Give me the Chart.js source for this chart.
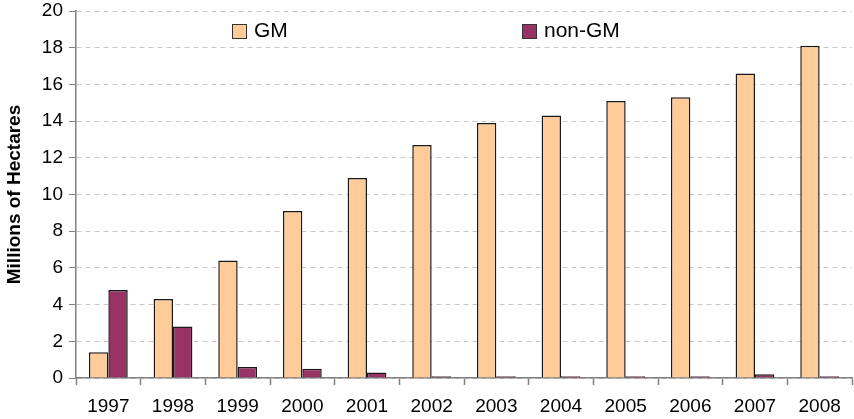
<!DOCTYPE html>
<html>
<head>
<meta charset="utf-8">
<script src="https://cdn.jsdelivr.net/npm/chart.js@4"></script>
<style>
  html, body { margin: 0; padding: 0; background: #fff; }
  #wrap { width: 854px; height: 419px; position: relative; }
</style>
</head>
<body>
<div id="wrap"><canvas id="chart"></canvas></div>
<script>
// data
const years = ['1997', '1998', '1999', '2000', '2001', '2002', '2003', '2004', '2005', '2006', '2007', '2008'];
const gmValues = [1.4, 4.3, 6.4, 9.1, 10.9, 12.7, 13.9, 14.3, 15.1, 15.3, 16.6, 18.1];
const nonGmValues = [4.8, 2.8, 0.6, 0.5, 0.3, 0.1, 0.1, 0.1, 0.1, 0.1, 0.2, 0.1];
const yTicks = [0, 2, 4, 6, 8, 10, 12, 14, 16, 18, 20];

const FONT = '"Liberation Sans", Arial, sans-serif';

// legend drawn inside the plot, like the original
const insideLegend = {
    id: 'insideLegend',
    afterDraw(chart) {
        const ctx = chart.ctx;
        const spots = [232, 522];
        ctx.save();
        ctx.font = '21px ' + FONT;
        ctx.textBaseline = 'middle';
        chart.data.datasets.forEach((ds, i) => {
            const x = spots[i];
            ctx.fillStyle = ds.backgroundColor;
            ctx.fillRect(x, 24, 14, 14);
            ctx.strokeStyle = '#333';
            ctx.lineWidth = 1;
            ctx.strokeRect(x + 0.5, 24.5, 14, 14);
            ctx.fillStyle = '#000';
            ctx.fillText(ds.label, x + 22, 31);
        });
        ctx.restore();
    }
};

const ctx = document.getElementById('chart').getContext('2d');
new Chart(ctx, {
    type: 'bar',
    data: {
        labels: years,
        datasets: [
            {
                label: 'GM',
                data: gmValues,
                backgroundColor: '#FFCC99',
                borderColor: '#1a1a1a',
                borderWidth: 1.5,
                borderSkipped: 'bottom'
            },
            {
                label: 'non-GM',
                data: nonGmValues,
                backgroundColor: '#993366',
                borderColor: '#1a1a1a',
                borderWidth: 1.5,
                borderSkipped: 'bottom'
            }
        ]
    },
    options: {
        responsive: true,
        maintainAspectRatio: false,
        animation: false,
        layout: { padding: { top: 0, right: 2, left: 0, bottom: 0 } },
        datasets: {
            bar: { categoryPercentage: 0.6, barPercentage: 1.0 }
        },
        plugins: {
            legend: { display: false },
            tooltip: { enabled: false }
        },
        scales: {
            x: {
                grid: {
                    offset: true,
                    drawOnChartArea: false,
                    tickLength: 7,
                    tickColor: '#808080',
                    tickWidth: 1.5
                },
                border: { color: '#808080', width: 1.5 },
                ticks: {
                    color: '#000',
                    padding: 10,
                    font: { family: FONT, size: 19 }
                },
                afterFit(scale) { scale.height = 41; }
            },
            y: {
                min: 0,
                max: 20,
                afterBuildTicks(scale) {
                    scale.ticks = yTicks.map(v => ({ value: v }));
                },
                grid: {
                    color: '#c8c8c8',
                    tickLength: 7,
                    tickColor: '#808080',
                    tickBorderDash: []
                },
                border: { color: '#808080', width: 1.5, dash: [5, 4] },
                ticks: {
                    color: '#000',
                    padding: 6,
                    font: { family: FONT, size: 19, lineHeight: 1.0 }
                },
                title: {
                    display: true,
                    text: 'Millions of Hectares',
                    color: '#000',
                    padding: { top: 3, bottom: 8 },
                    font: { family: FONT, size: 19, weight: 'bold' }
                },
                afterFit(scale) {
                    scale.width = 76;
                    scale.paddingTop = 11;
                }
            }
        }
    },
    plugins: [insideLegend]
});
</script>
</body>
</html>
